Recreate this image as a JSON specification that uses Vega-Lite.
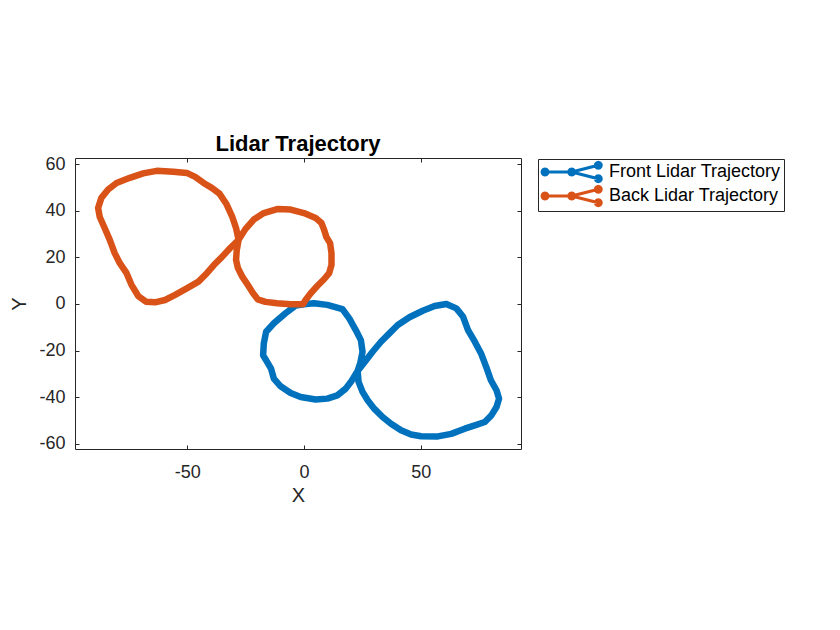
{
  "$schema": "https://vega.github.io/schema/vega-lite/v6.json",
  "autosize": "none",
  "padding": {"left": 75, "top": 158, "right": 319, "bottom": 181},
  "width": 446,
  "height": 291,
  "background": "white",
  "config": {
    "font": "Liberation Sans",
    "view": {"stroke": "#262626", "strokeWidth": 1}
  },
  "title": {
    "text": "Lidar Trajectory",
    "fontSize": 22,
    "fontWeight": "bold",
    "color": "#000000",
    "baseline": "alphabetic",
    "offset": -18,
    "anchor": "middle"
  },
  "data": {
    "values": [
      {"s": "Front Lidar Trajectory", "i": 0, "x": 0, "y": -0.1},
      {"s": "Front Lidar Trajectory", "i": 1, "x": 4.3, "y": 0.3},
      {"s": "Front Lidar Trajectory", "i": 2, "x": 10.0, "y": -0.4},
      {"s": "Front Lidar Trajectory", "i": 3, "x": 16.5, "y": -2.2},
      {"s": "Front Lidar Trajectory", "i": 4, "x": 19.4, "y": -6.2},
      {"s": "Front Lidar Trajectory", "i": 5, "x": 22.2, "y": -11.2},
      {"s": "Front Lidar Trajectory", "i": 6, "x": 24.4, "y": -15.5},
      {"s": "Front Lidar Trajectory", "i": 7, "x": 25.1, "y": -20.5},
      {"s": "Front Lidar Trajectory", "i": 8, "x": 24.1, "y": -25.5},
      {"s": "Front Lidar Trajectory", "i": 9, "x": 23.0, "y": -28.7},
      {"s": "Front Lidar Trajectory", "i": 10, "x": 23.4, "y": -33.4},
      {"s": "Front Lidar Trajectory", "i": 11, "x": 25.1, "y": -37.7},
      {"s": "Front Lidar Trajectory", "i": 12, "x": 27.3, "y": -41.3},
      {"s": "Front Lidar Trajectory", "i": 13, "x": 30.1, "y": -44.9},
      {"s": "Front Lidar Trajectory", "i": 14, "x": 33.7, "y": -48.5},
      {"s": "Front Lidar Trajectory", "i": 15, "x": 37.3, "y": -51.4},
      {"s": "Front Lidar Trajectory", "i": 16, "x": 41.6, "y": -54.2},
      {"s": "Front Lidar Trajectory", "i": 17, "x": 45.9, "y": -56.0},
      {"s": "Front Lidar Trajectory", "i": 18, "x": 50.2, "y": -56.7},
      {"s": "Front Lidar Trajectory", "i": 19, "x": 57.4, "y": -56.8},
      {"s": "Front Lidar Trajectory", "i": 20, "x": 63.1, "y": -55.7},
      {"s": "Front Lidar Trajectory", "i": 21, "x": 68.9, "y": -53.5},
      {"s": "Front Lidar Trajectory", "i": 22, "x": 73.2, "y": -52.1},
      {"s": "Front Lidar Trajectory", "i": 23, "x": 77.5, "y": -50.6},
      {"s": "Front Lidar Trajectory", "i": 24, "x": 80.3, "y": -47.8},
      {"s": "Front Lidar Trajectory", "i": 25, "x": 82.5, "y": -44.2},
      {"s": "Front Lidar Trajectory", "i": 26, "x": 83.6, "y": -40.6},
      {"s": "Front Lidar Trajectory", "i": 27, "x": 82.5, "y": -37.0},
      {"s": "Front Lidar Trajectory", "i": 28, "x": 80.1, "y": -32.7},
      {"s": "Front Lidar Trajectory", "i": 29, "x": 78.2, "y": -27.3},
      {"s": "Front Lidar Trajectory", "i": 30, "x": 76.0, "y": -21.5},
      {"s": "Front Lidar Trajectory", "i": 31, "x": 73.2, "y": -16.2},
      {"s": "Front Lidar Trajectory", "i": 32, "x": 70.3, "y": -11.2},
      {"s": "Front Lidar Trajectory", "i": 33, "x": 68.2, "y": -5.5},
      {"s": "Front Lidar Trajectory", "i": 34, "x": 65.3, "y": -1.9},
      {"s": "Front Lidar Trajectory", "i": 35, "x": 61.0, "y": 0.0},
      {"s": "Front Lidar Trajectory", "i": 36, "x": 56.0, "y": -0.9},
      {"s": "Front Lidar Trajectory", "i": 37, "x": 50.9, "y": -2.9},
      {"s": "Front Lidar Trajectory", "i": 38, "x": 45.2, "y": -5.7},
      {"s": "Front Lidar Trajectory", "i": 39, "x": 40.2, "y": -9.0},
      {"s": "Front Lidar Trajectory", "i": 40, "x": 36.6, "y": -12.6},
      {"s": "Front Lidar Trajectory", "i": 41, "x": 33.0, "y": -16.2},
      {"s": "Front Lidar Trajectory", "i": 42, "x": 29.4, "y": -20.5},
      {"s": "Front Lidar Trajectory", "i": 43, "x": 26.1, "y": -24.8},
      {"s": "Front Lidar Trajectory", "i": 44, "x": 23.0, "y": -28.7},
      {"s": "Front Lidar Trajectory", "i": 45, "x": 20.4, "y": -33.0},
      {"s": "Front Lidar Trajectory", "i": 46, "x": 17.9, "y": -36.3},
      {"s": "Front Lidar Trajectory", "i": 47, "x": 14.3, "y": -39.2},
      {"s": "Front Lidar Trajectory", "i": 48, "x": 10.0, "y": -40.6},
      {"s": "Front Lidar Trajectory", "i": 49, "x": 5.0, "y": -41.0},
      {"s": "Front Lidar Trajectory", "i": 50, "x": -1.4, "y": -39.9},
      {"s": "Front Lidar Trajectory", "i": 51, "x": -5.7, "y": -38.2},
      {"s": "Front Lidar Trajectory", "i": 52, "x": -10.0, "y": -35.3},
      {"s": "Front Lidar Trajectory", "i": 53, "x": -12.9, "y": -32.0},
      {"s": "Front Lidar Trajectory", "i": 54, "x": -14.1, "y": -27.7},
      {"s": "Front Lidar Trajectory", "i": 55, "x": -15.8, "y": -24.8},
      {"s": "Front Lidar Trajectory", "i": 56, "x": -17.5, "y": -22.0},
      {"s": "Front Lidar Trajectory", "i": 57, "x": -17.2, "y": -16.9},
      {"s": "Front Lidar Trajectory", "i": 58, "x": -16.2, "y": -11.9},
      {"s": "Front Lidar Trajectory", "i": 59, "x": -12.9, "y": -8.3},
      {"s": "Front Lidar Trajectory", "i": 60, "x": -7.9, "y": -4.0},
      {"s": "Front Lidar Trajectory", "i": 61, "x": -3.6, "y": -0.7},
      {"s": "Front Lidar Trajectory", "i": 62, "x": 0, "y": -0.1},
      {"s": "Back Lidar Trajectory", "i": 0, "x": -0.3, "y": 0},
      {"s": "Back Lidar Trajectory", "i": 1, "x": -5.7, "y": -0.1},
      {"s": "Back Lidar Trajectory", "i": 2, "x": -11.5, "y": 0.3},
      {"s": "Back Lidar Trajectory", "i": 3, "x": -16.5, "y": 0.9},
      {"s": "Back Lidar Trajectory", "i": 4, "x": -19.8, "y": 2.0},
      {"s": "Back Lidar Trajectory", "i": 5, "x": -21.8, "y": 4.6},
      {"s": "Back Lidar Trajectory", "i": 6, "x": -24.1, "y": 8.2},
      {"s": "Back Lidar Trajectory", "i": 7, "x": -26.3, "y": 11.5},
      {"s": "Back Lidar Trajectory", "i": 8, "x": -28.3, "y": 15.4},
      {"s": "Back Lidar Trajectory", "i": 9, "x": -29.1, "y": 18.9},
      {"s": "Back Lidar Trajectory", "i": 10, "x": -28.8, "y": 23.0},
      {"s": "Back Lidar Trajectory", "i": 11, "x": -28.0, "y": 27.5},
      {"s": "Back Lidar Trajectory", "i": 12, "x": -29.1, "y": 32.6},
      {"s": "Back Lidar Trajectory", "i": 13, "x": -30.8, "y": 37.6},
      {"s": "Back Lidar Trajectory", "i": 14, "x": -33.3, "y": 43.0},
      {"s": "Back Lidar Trajectory", "i": 15, "x": -36.2, "y": 47.3},
      {"s": "Back Lidar Trajectory", "i": 16, "x": -39.5, "y": 49.8},
      {"s": "Back Lidar Trajectory", "i": 17, "x": -43.0, "y": 51.9},
      {"s": "Back Lidar Trajectory", "i": 18, "x": -46.6, "y": 54.5},
      {"s": "Back Lidar Trajectory", "i": 19, "x": -50.2, "y": 56.2},
      {"s": "Back Lidar Trajectory", "i": 20, "x": -56.0, "y": 56.7},
      {"s": "Back Lidar Trajectory", "i": 21, "x": -63.1, "y": 57.1},
      {"s": "Back Lidar Trajectory", "i": 22, "x": -68.9, "y": 56.0},
      {"s": "Back Lidar Trajectory", "i": 23, "x": -74.6, "y": 54.1},
      {"s": "Back Lidar Trajectory", "i": 24, "x": -80.3, "y": 51.9},
      {"s": "Back Lidar Trajectory", "i": 25, "x": -83.9, "y": 49.1},
      {"s": "Back Lidar Trajectory", "i": 26, "x": -86.8, "y": 45.5},
      {"s": "Back Lidar Trajectory", "i": 27, "x": -88.2, "y": 41.2},
      {"s": "Back Lidar Trajectory", "i": 28, "x": -87.5, "y": 37.3},
      {"s": "Back Lidar Trajectory", "i": 29, "x": -85.4, "y": 32.6},
      {"s": "Back Lidar Trajectory", "i": 30, "x": -83.2, "y": 27.5},
      {"s": "Back Lidar Trajectory", "i": 31, "x": -81.1, "y": 21.8},
      {"s": "Back Lidar Trajectory", "i": 32, "x": -78.9, "y": 17.5},
      {"s": "Back Lidar Trajectory", "i": 33, "x": -76.0, "y": 13.2},
      {"s": "Back Lidar Trajectory", "i": 34, "x": -73.9, "y": 8.2},
      {"s": "Back Lidar Trajectory", "i": 35, "x": -71.0, "y": 3.4},
      {"s": "Back Lidar Trajectory", "i": 36, "x": -67.7, "y": 1.0},
      {"s": "Back Lidar Trajectory", "i": 37, "x": -63.8, "y": 0.7},
      {"s": "Back Lidar Trajectory", "i": 38, "x": -59.5, "y": 1.7},
      {"s": "Back Lidar Trajectory", "i": 39, "x": -55.2, "y": 3.9},
      {"s": "Back Lidar Trajectory", "i": 40, "x": -50.2, "y": 6.7},
      {"s": "Back Lidar Trajectory", "i": 41, "x": -45.2, "y": 9.6},
      {"s": "Back Lidar Trajectory", "i": 42, "x": -41.6, "y": 13.2},
      {"s": "Back Lidar Trajectory", "i": 43, "x": -38.5, "y": 16.8},
      {"s": "Back Lidar Trajectory", "i": 44, "x": -35.2, "y": 20.1},
      {"s": "Back Lidar Trajectory", "i": 45, "x": -31.6, "y": 24.0},
      {"s": "Back Lidar Trajectory", "i": 46, "x": -28.0, "y": 27.5},
      {"s": "Back Lidar Trajectory", "i": 47, "x": -25.1, "y": 32.1},
      {"s": "Back Lidar Trajectory", "i": 48, "x": -21.5, "y": 36.2},
      {"s": "Back Lidar Trajectory", "i": 49, "x": -17.2, "y": 39.0},
      {"s": "Back Lidar Trajectory", "i": 50, "x": -11.5, "y": 40.7},
      {"s": "Back Lidar Trajectory", "i": 51, "x": -5.7, "y": 40.5},
      {"s": "Back Lidar Trajectory", "i": 52, "x": 0.0, "y": 39.0},
      {"s": "Back Lidar Trajectory", "i": 53, "x": 5.0, "y": 36.9},
      {"s": "Back Lidar Trajectory", "i": 54, "x": 7.5, "y": 34.7},
      {"s": "Back Lidar Trajectory", "i": 55, "x": 8.6, "y": 31.9},
      {"s": "Back Lidar Trajectory", "i": 56, "x": 9.6, "y": 28.7},
      {"s": "Back Lidar Trajectory", "i": 57, "x": 11.2, "y": 26.1},
      {"s": "Back Lidar Trajectory", "i": 58, "x": 11.8, "y": 21.8},
      {"s": "Back Lidar Trajectory", "i": 59, "x": 11.8, "y": 16.8},
      {"s": "Back Lidar Trajectory", "i": 60, "x": 10.8, "y": 13.2},
      {"s": "Back Lidar Trajectory", "i": 61, "x": 8.6, "y": 10.6},
      {"s": "Back Lidar Trajectory", "i": 62, "x": 5.7, "y": 7.7},
      {"s": "Back Lidar Trajectory", "i": 63, "x": 2.9, "y": 4.6},
      {"s": "Back Lidar Trajectory", "i": 64, "x": 0.7, "y": 1.7},
      {"s": "Back Lidar Trajectory", "i": 65, "x": -0.3, "y": 0}
    ]
  },
  "layer": [
    {
      "mark": {"type": "line", "strokeWidth": 6.5, "strokeCap": "round", "strokeJoin": "round", "clip": true},
      "encoding": {
        "x": {
          "field": "x", "type": "quantitative",
          "scale": {"domain": [-98.1, 93.0], "nice": false, "zero": false},
          "axis": {
            "orient": "bottom", "values": [-50, 0, 50], "grid": false, "domain": false,
            "labelExpr": "'' + datum.value",
            "tickSize": -4, "tickColor": "#262626", "labelFontSize": 18, "labelColor": "#262626",
            "labelPadding": 18, "title": "X", "titleFontSize": 20, "titleFontWeight": "normal",
            "titleColor": "#262626", "titlePadding": 4
          }
        },
        "y": {
          "field": "y", "type": "quantitative",
          "scale": {"domain": [-62.2, 62.6], "nice": false, "zero": false},
          "axis": {
            "orient": "left", "values": [-60, -40, -20, 0, 20, 40, 60], "grid": false, "domain": false,
            "labelExpr": "'' + datum.value",
            "tickSize": -4, "tickColor": "#262626", "labelFontSize": 18, "labelColor": "#262626",
            "labelPadding": 14, "title": "Y", "titleFontSize": 20, "titleFontWeight": "normal",
            "titleColor": "#262626", "titlePadding": 9
          }
        },
        "color": {
          "field": "s", "type": "nominal",
          "scale": {"domain": ["Front Lidar Trajectory", "Back Lidar Trajectory"], "range": ["#0072BD", "#D95319"]},
          "legend": {
            "title": null, "orient": "none", "legendX": 463, "legendY": 1,
            "direction": "vertical",
            "fillColor": "white", "strokeColor": "#262626", "padding": 3,
            "rowPadding": 0,
            "labelFontSize": 18, "labelColor": "#000000", "labelOffset": 48, "labelLimit": 400,
            "symbolSize": 400, "symbolStrokeWidth": 0, "symbolOpacity": 1,
            "symbolType": "M-0.15,0 L-0.21,0.225 L-0.375,0.39 L-0.6,0.45 L-0.825,0.39 L-0.99,0.225 L-1.05,0 L-0.99,-0.225 L-0.825,-0.39 L-0.6,-0.45 L-0.375,-0.39 L-0.21,-0.225 Z M2.52,0 L2.46,0.225 L2.295,0.39 L2.07,0.45 L1.845,0.39 L1.68,0.225 L1.62,0 L1.68,-0.225 L1.845,-0.39 L2.07,-0.45 L2.295,-0.39 L2.46,-0.225 Z M5.18,-0.67 L5.12,-0.445 L4.955,-0.28 L4.73,-0.22 L4.505,-0.28 L4.34,-0.445 L4.28,-0.67 L4.34,-0.895 L4.505,-1.06 L4.73,-1.12 L4.955,-1.06 L5.12,-0.895 Z M5.18,0.67 L5.12,0.895 L4.955,1.06 L4.73,1.12 L4.505,1.06 L4.34,0.895 L4.28,0.67 L4.34,0.445 L4.505,0.28 L4.73,0.22 L4.955,0.28 L5.12,0.445 Z M-0.6,-0.16 L2.07,-0.16 L2.07,0.16 L-0.6,0.16 Z M2.03,-0.155 L4.69,-0.825 L4.77,-0.515 L2.11,0.155 Z M2.11,-0.155 L4.77,0.515 L4.69,0.825 L2.03,0.155 Z",
            "encode": {
              "symbols": {
                "update": {
                  "fill": {"scale": "color", "field": "value"},
                  "stroke": {"value": "transparent"},
                  "opacity": {"value": 1}
                }
              }
            }
          }
        },
        "order": {"field": "i", "type": "quantitative"}
      }
    },
    {
      "mark": {"type": "point", "opacity": 0},
      "encoding": {
        "x": {
          "field": "x", "type": "quantitative",
          "axis": {"orient": "top", "values": [-50, 0, 50], "grid": false, "domain": false, "labels": false, "title": null, "tickSize": -4, "tickColor": "#262626"}
        },
        "y": {
          "field": "y", "type": "quantitative",
          "axis": {"orient": "right", "values": [-60, -40, -20, 0, 20, 40, 60], "grid": false, "domain": false, "labels": false, "title": null, "tickSize": -4, "tickColor": "#262626"}
        }
      }
    }
  ],
  "resolve": {"axis": {"x": "independent", "y": "independent"}}
}
